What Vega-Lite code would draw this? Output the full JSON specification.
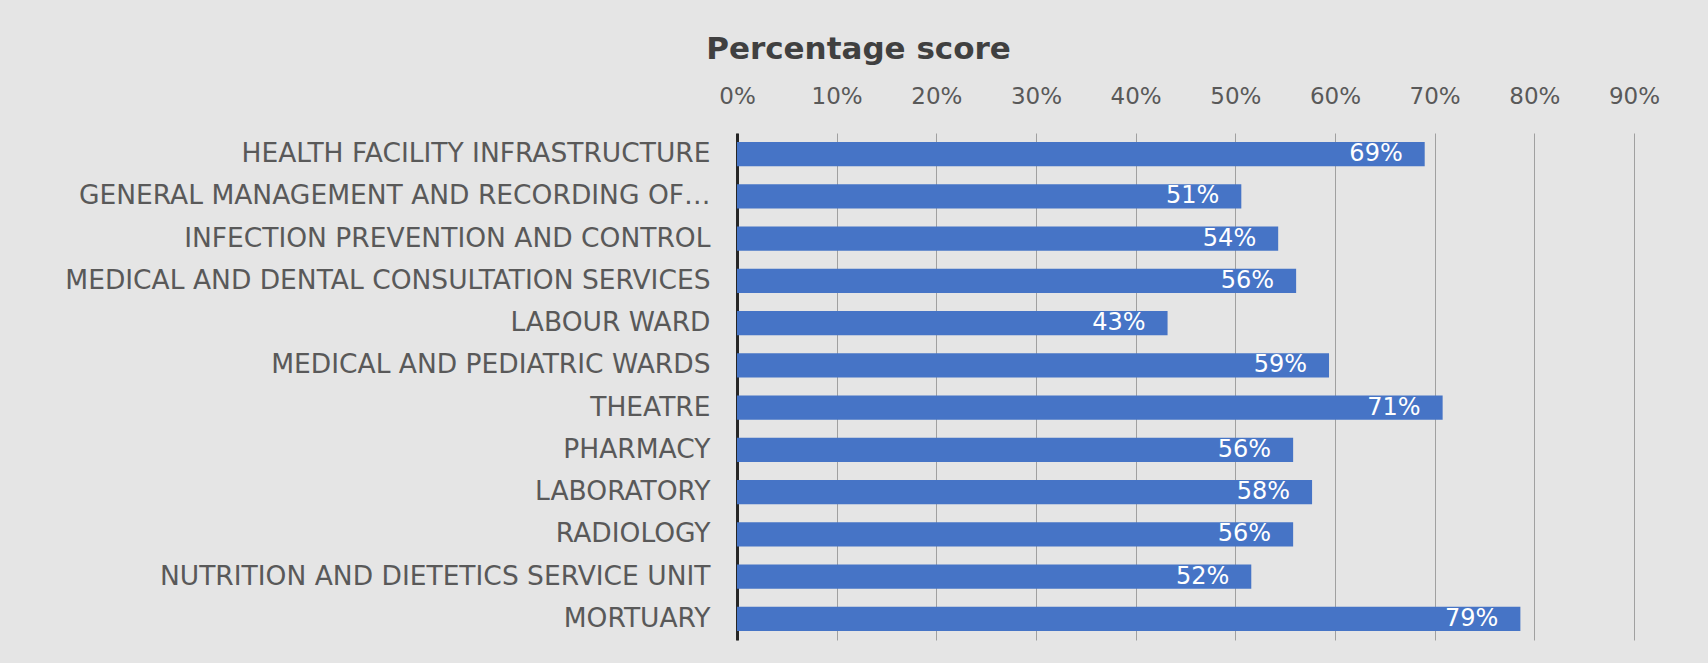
{
  "$schema": "https://vega.github.io/schema/vega-lite/v6.json",
  "autosize": {"type": "none"},
  "padding": {"left": 737, "top": 133, "right": 74, "bottom": 23},
  "width": 897,
  "height": 507,
  "background": "#e5e5e5",
  "config": {
    "view": {"stroke": null},
    "font": "DejaVu Sans"
  },
  "title": {
    "text": "Percentage score",
    "font": "DejaVu Sans",
    "fontSize": 31,
    "fontWeight": "bold",
    "color": "#404040",
    "anchor": "middle",
    "dx": -327,
    "offset": 19
  },
  "data": {
    "values": [
      {"area": "HEALTH FACILITY INFRASTRUCTURE", "score": 0.69},
      {"area": "GENERAL MANAGEMENT AND RECORDING OF…", "score": 0.506},
      {"area": "INFECTION PREVENTION AND CONTROL ", "score": 0.543},
      {"area": "MEDICAL AND DENTAL CONSULTATION SERVICES", "score": 0.561},
      {"area": "LABOUR WARD ", "score": 0.432},
      {"area": "MEDICAL AND PEDIATRIC WARDS", "score": 0.594},
      {"area": "THEATRE", "score": 0.708},
      {"area": "PHARMACY ", "score": 0.558},
      {"area": "LABORATORY", "score": 0.577},
      {"area": "RADIOLOGY", "score": 0.558},
      {"area": "NUTRITION AND DIETETICS SERVICE UNIT", "score": 0.516},
      {"area": "MORTUARY", "score": 0.786}
    ]
  },
  "encoding": {
    "y": {
      "field": "area",
      "type": "nominal",
      "sort": null,
      "scale": {"paddingInner": 0.43},
      "axis": {
        "title": null,
        "ticks": false,
        "domainColor": "#262626",
        "domainWidth": 3,
        "labelFont": "DejaVu Sans",
        "labelFontSize": 26.5,
        "labelColor": "#595959",
        "labelPadding": 27,
        "labelLimit": 900
      }
    },
    "x": {
      "field": "score",
      "type": "quantitative",
      "scale": {"domain": [0, 0.9], "nice": false},
      "axis": {
        "orient": "top",
        "title": null,
        "format": ".0%",
        "values": [0, 0.1, 0.2, 0.3, 0.4, 0.5, 0.6, 0.7, 0.8, 0.9],
        "ticks": false,
        "domain": false,
        "grid": true,
        "gridColor": "#a0a0a0",
        "gridWidth": 1,
        "labelFont": "DejaVu Sans",
        "labelFontSize": 23,
        "labelColor": "#595959",
        "labelPadding": 25,
        "labelFlush": false
      }
    }
  },
  "layer": [
    {"mark": {"type": "bar", "color": "#4674c6"}},
    {
      "mark": {
        "type": "text",
        "align": "right",
        "baseline": "middle",
        "dx": -22,
        "color": "#ffffff",
        "font": "DejaVu Sans",
        "fontSize": 24
      },
      "encoding": {"text": {"field": "score", "type": "quantitative", "format": ".0%"}}
    }
  ]
}
